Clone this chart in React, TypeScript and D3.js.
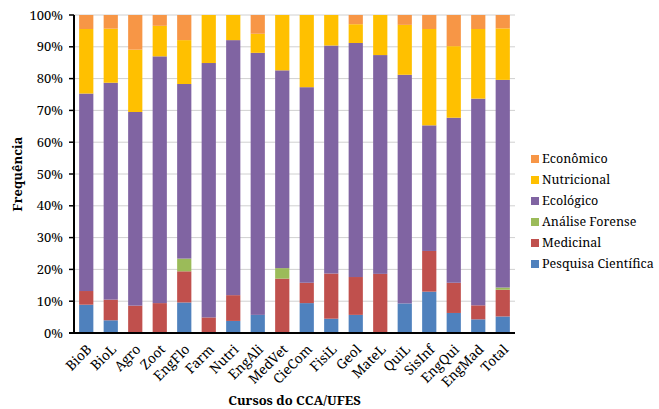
import React from "react";
import * as d3 from "d3";

// Course codes along the x axis
const courses = ["BioB", "BioL", "Agro", "Zoot", "EngFlo", "Farm", "Nutri", "EngAli", "MedVet", "CieCom", "FisiL", "Geol", "MateL", "QuiL", "SisInf", "EngQui", "EngMad", "Total"];

// Percentage shares per course, one array per category (stack order bottom → top)
const pesquisa = [8.9, 4.0, 0, 0, 9.6, 0, 3.8, 5.7, 0, 9.4, 4.5, 5.7, 0, 9.3, 13.0, 6.3, 4.3, 5.2];
const medicinal = [4.3, 6.5, 8.6, 9.4, 9.8, 4.9, 8.1, 0, 17.1, 6.4, 14.2, 11.9, 18.6, 0, 12.8, 9.5, 4.4, 8.4];
const forense = [0, 0, 0, 0, 4.0, 0, 0, 0, 3.3, 0, 0, 0, 0, 0, 0, 0, 0, 0.7];
const ecologico = [62.1, 68.2, 60.9, 77.6, 54.9, 80.0, 80.2, 82.4, 62.2, 61.5, 71.7, 73.6, 68.8, 71.9, 39.5, 51.9, 65.0, 65.3];
const nutricional = [20.3, 17.0, 19.6, 9.6, 13.8, 15.1, 7.9, 6.0, 17.4, 22.7, 9.6, 5.9, 12.6, 15.7, 30.3, 22.5, 21.9, 16.2];
const economico = [4.4, 4.3, 10.9, 3.4, 7.9, 0, 0, 5.9, 0, 0, 0, 2.9, 0, 3.1, 4.4, 9.8, 4.4, 4.2];

const seriesNames = ["Pesquisa Científica", "Medicinal", "Análise Forense", "Ecológico", "Nutricional", "Econômico"];
const seriesColors = ["#4F81BD", "#C0504D", "#9BBB59", "#8064A2", "#FFC000", "#F79646"];
const seriesValues = [pesquisa, medicinal, forense, ecologico, nutricional, economico];

const yTicks = [0, 10, 20, 30, 40, 50, 60, 70, 80, 90, 100];

const W = 659;
const H = 409;
const margin = { left: 74, right: 144, top: 15, bottom: 76 };
const textStyle = { fontFamily: "'Noto Serif', 'DejaVu Serif', serif" };

export default function App() {
  const rows = courses.map((c, i) => {
    const row: Record<string, number | string> = { course: c };
    seriesNames.forEach((s, k) => {
      row[s] = seriesValues[k][i];
    });
    return row;
  });

  const stack = d3.stack<Record<string, number | string>>().keys(seriesNames).value((d, k) => d[k] as number);
  const layers = stack(rows);

  const x = d3
    .scaleBand()
    .domain(courses)
    .range([margin.left, W - margin.right])
    .paddingInner(0.42)
    .paddingOuter(0.21);
  const y = d3.scaleLinear().domain([0, 100]).range([H - margin.bottom, margin.top]);

  const legendNames = seriesNames.slice().reverse();
  const legendColors = seriesColors.slice().reverse();

  return (
    <svg width={W} height={H} style={{ position: "absolute", left: 0, top: 0, background: "#fff" }}>
      {/* grid */}
      {yTicks.map((t) => (
        <line key={"g" + t} x1={margin.left} x2={W - margin.right} y1={y(t)} y2={y(t)} stroke="#D0D0D0" strokeWidth={1} />
      ))}
      {/* bars */}
      {layers.map((layer, k) => (
        <g key={layer.key} fill={seriesColors[k]}>
          {layer.map((d, i) =>
            d[1] - d[0] > 0 ? (
              <rect
                key={i}
                x={x(courses[i])}
                y={y(d[1])}
                width={x.bandwidth()}
                height={y(d[0]) - y(d[1])}
              />
            ) : null
          )}
        </g>
      ))}
      {/* axes */}
      <line x1={margin.left} x2={margin.left} y1={margin.top} y2={H - margin.bottom} stroke="#000" strokeWidth={2} />
      <line x1={margin.left - 5} x2={W - margin.right} y1={H - margin.bottom} y2={H - margin.bottom} stroke="#000" strokeWidth={2} />
      {yTicks.map((t) => (
        <g key={"t" + t}>
          <line x1={margin.left - 5} x2={margin.left} y1={y(t)} y2={y(t)} stroke="#000" strokeWidth={1.5} />
          <text x={margin.left - 11} y={y(t)} dy="0.35em" textAnchor="end" style={textStyle} fontSize={13} fill="#000">
            {t}%
          </text>
        </g>
      ))}
      {courses.map((c) => {
        const cx = (x(c) as number) + x.bandwidth() / 2 + 3;
        const cy = H - margin.bottom + 14;
        return (
          <text
            key={"x" + c}
            transform={`translate(${cx},${cy}) rotate(-45)`}
            textAnchor="end"
            dy="0.35em"
            style={textStyle}
            fontSize={13.5}
            fill="#000"
          >
            {c}
          </text>
        );
      })}
      {/* axis titles */}
      <text
        transform={`translate(17,${(margin.top + H - margin.bottom) / 2}) rotate(-90)`}
        textAnchor="middle"
        dy="0.35em"
        style={textStyle}
        fontWeight="bold"
        fontSize={13}
        fill="#000"
      >
        Frequência
      </text>
      <text
        x={(margin.left + W - margin.right) / 2}
        y={405}
        textAnchor="middle"
        style={textStyle}
        fontWeight="bold"
        fontSize={13}
        fill="#000"
      >
        Cursos do CCA/UFES
      </text>
      {/* legend */}
      {legendNames.map((n, i) => (
        <g key={"l" + n} transform={`translate(531,${159 + i * 21})`}>
          <rect x={0} y={-4} width={8} height={8} fill={legendColors[i]} />
          <text x={11} y={0} dy="0.35em" style={textStyle} fontSize={12.5} fill="#000">
            {n}
          </text>
        </g>
      ))}
    </svg>
  );
}
